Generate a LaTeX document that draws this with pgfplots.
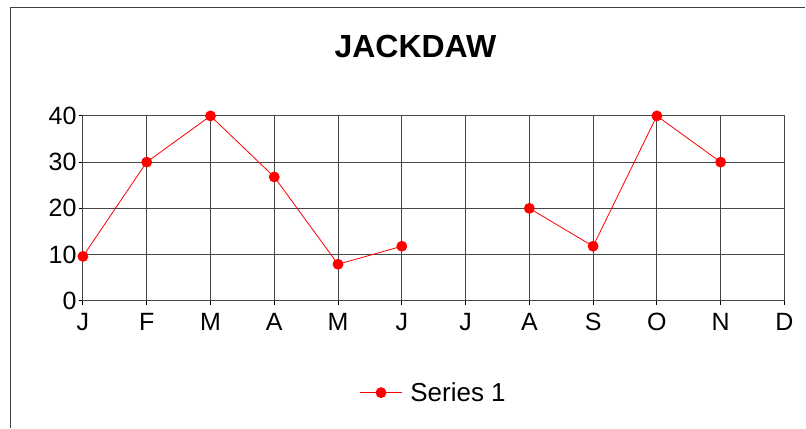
\documentclass[border=0pt]{standalone}
\usepackage{pgfplots}
\pgfplotsset{compat=1.18}
\usepackage{fontspec}
\setmainfont{Liberation Sans}
\definecolor{gridgray}{RGB}{70,70,70}

\begin{document}
\begin{tikzpicture}[x=1pt,y=1pt]
% canvas and outer frame (cut off at right and bottom)
\path (0,0) rectangle (806,428);
\draw[black!75,line width=1.2pt] (10.5,0) -- (10.5,420.5) -- (806,420.5);

\begin{axis}[
  at={(83pt,127pt)}, anchor=south west,
  scale only axis,
  width=702pt, height=185pt,
  xmin=0, xmax=11, ymin=0, ymax=40,
  xtick={0,...,11},
  xticklabels={J,F,M,A,M,J,J,A,S,O,N,D},
  ytick={0,10,20,30,40},
  xtick pos=bottom, ytick pos=left,
  tick align=outside,
  major tick length=4pt,
  tick style={black, line width=0.9pt},
  grid=major,
  grid style={gridgray, line width=0.9pt},
  axis line style={gridgray, line width=0.9pt},
  every axis plot post/.append style={line width=0.8pt},
  tick label style={font=\fontsize{25}{27}\selectfont},
  /pgf/number format/assume math mode=true,
  xticklabel style={yshift=-5pt},
  yticklabel style={xshift=1pt},
  title={JACKDAW},
  title style={at={(0.474,1.343)}, anchor=center, font=\fontsize{32}{35}\selectfont\bfseries},
  legend style={at={(0.5,-0.497)}, anchor=center, draw=none,
    font=\fontsize{26}{28}\selectfont, legend cell align=left,
    /tikz/every odd column/.style={column sep=6pt}},
  legend image code/.code={
    \draw[#1, mark repeat=2, mark phase=2] plot coordinates {(0pt,0pt) (21pt,0pt) (42pt,0pt)};
  },
  unbounded coords=jump,
]
\addplot[red, mark=*, mark size=5pt, mark options={fill=red, draw=red}]
  coordinates {(0,9.6)(1,30)(2,40)(3,26.8)(4,7.9)(5,11.8)(6,nan)(7,20)(8,11.8)(9,40)(10,30)};
\addlegendentry{Series 1}
\end{axis}
\end{tikzpicture}
\end{document}
